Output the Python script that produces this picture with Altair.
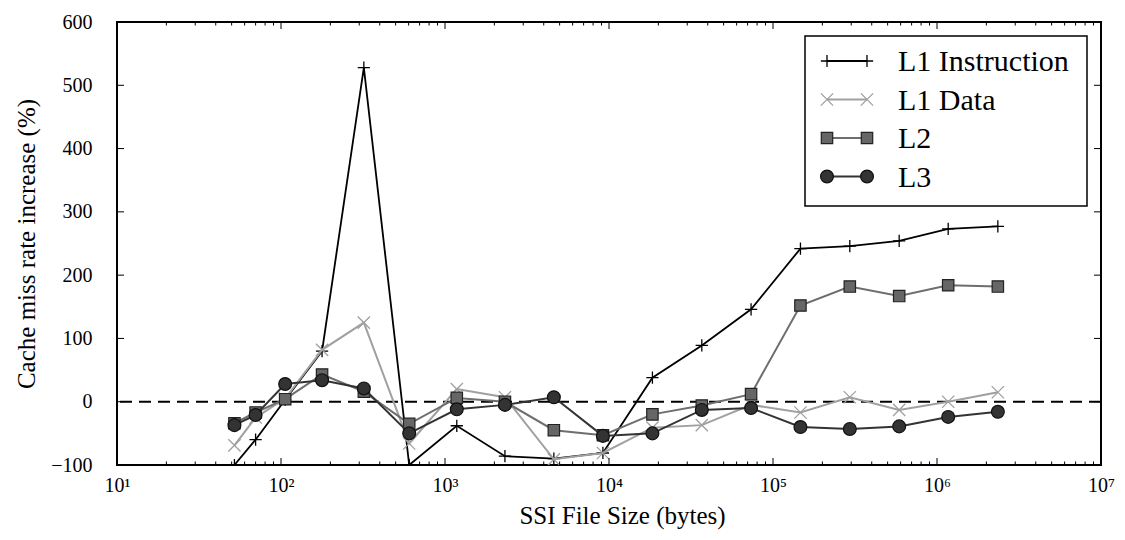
import altair as alt
import pandas as pd

# File sizes (bytes) at which the miss-rate change was measured
sizes = [52, 70, 106, 178, 320, 605, 1180, 2320, 4610, 9180, 18400, 36800,
         73500, 147000, 294000, 588000, 1170000, 2350000]

# Cache miss rate increase (%) per cache level
l1_instruction = [-100, -60, 3, 80, 528, -100, -38, -86, -90, -81, 38, 89,
                  146, 242, 246, 254, 273, 277]
l1_data = [-69, -25, 5, 82, 125, -66, 20, 7, -91, -81, -41, -37,
           -5, -17, 7, -13, 0, 15]
l2 = [-34, -17, 4, 43, 16, -35, 6, 0, -45, -53, -20, -6,
      12, 152, 182, 167, 184, 182]
l3 = [-37, -21, 28, 34, 21, -50, -12, -5, 7, -54, -50, -13,
      -10, -40, -43, -39, -24, -16]

series_names = ["L1 Instruction", "L1 Data", "L2", "L3"]
series_values = [l1_instruction, l1_data, l2, l3]

x_major = [10, 100, 1000, 10000, 100000, 1000000, 10000000]
x_minor = [k * 10 ** e for e in range(1, 7) for k in range(2, 10)]
y_major = [-100, 0, 100, 200, 300, 400, 500, 600]

W, H = 984, 443
FONT = "'Liberation Serif', 'DejaVu Serif', serif"

PLUS = "M-1,0L1,0M0,-1L0,1"
CROSS = "M-1,-1L1,1M-1,1L1,-1"

styles = {
    "L1 Instruction": dict(line="#000000", lw=1.8, shape=PLUS, filled=False,
                           fill="#000000", stroke="#000000", size=150, sw=1.3),
    "L1 Data": dict(line="#a0a0a0", lw=2.0, shape=CROSS, filled=False,
                    fill="#a0a0a0", stroke="#a0a0a0", size=150, sw=1.3),
    "L2": dict(line="#6e6e6e", lw=2.0, shape="square", filled=True,
               fill="#666666", stroke="#222222", size=130, sw=1.2),
    "L3": dict(line="#333333", lw=2.0, shape="circle", filled=True,
               fill="#333333", stroke="#111111", size=165, sw=1.2),
}

x_scale = alt.Scale(type="log", domain=[10, 10000000], nice=False)
y_scale = alt.Scale(domain=[-100, 600], nice=False, zero=False)

x_axis = alt.Axis(
    title="SSI File Size (bytes)",
    values=x_major,
    ticks=False, domain=False, grid=False,
    labelFlush=False, labelOverlap=False,
    labelExpr="'10' + ['\u2070','\u00b9','\u00b2','\u00b3','\u2074','\u2075','\u2076','\u2077'][round(log(datum.value) / LN10)]",
    labelPadding=10, titlePadding=8, titleX=505,
)
y_axis = alt.Axis(
    title="Cache miss rate increase (%)",
    values=y_major,
    ticks=False, domain=False, grid=False,
    labelFlush=False, labelOverlap=False,
    labelExpr="datum.value < 0 ? '\u2212' + format(-datum.value, 'd') : format(datum.value, 'd')",
    labelPadding=25, titlePadding=11,
)


def X(field):
    return alt.X(f"{field}:Q", scale=x_scale, axis=x_axis)


def Y(field):
    return alt.Y(f"{field}:Q", scale=y_scale, axis=y_axis)


def marker(data, st):
    if st["filled"]:
        return alt.Chart(data).mark_point(
            shape=st["shape"], filled=True, fill=st["fill"], stroke=st["stroke"],
            strokeWidth=st["sw"], size=st["size"], opacity=1, clip=True,
        )
    return alt.Chart(data).mark_point(
        shape=st["shape"], filled=False, stroke=st["stroke"], color=st["stroke"],
        strokeWidth=st["sw"], size=st["size"], opacity=1, clip=True,
    )


layers = []

# dashed zero reference line
zero_df = pd.DataFrame({"v": [0]})
layers.append(
    alt.Chart(zero_df).mark_rule(color="black", strokeWidth=2, strokeDash=[12, 7])
    .encode(y=Y("v"))
)

# data series: line plus markers, drawn in legend order
for name, vals in zip(series_names, series_values):
    st = styles[name]
    df = pd.DataFrame({"size": sizes, "value": vals, "series": name})
    layers.append(
        alt.Chart(df).mark_line(color=st["line"], strokeWidth=st["lw"], clip=True)
        .encode(x=X("size"), y=Y("value"))
    )
    layers.append(marker(df, st).encode(x=X("size"), y=Y("value")))

# inward ticks on all four sides of the frame
xmaj_df = pd.DataFrame({"t": x_major})
xmin_df = pd.DataFrame({"t": x_minor})
ymaj_df = pd.DataFrame({"t": y_major})
for tdf, length in [(xmaj_df, 7), (xmin_df, 3.5)]:
    layers.append(alt.Chart(tdf).mark_rule(color="black", strokeWidth=1)
                  .encode(x=X("t"), y=alt.value(H), y2=alt.value(H - length)))
    layers.append(alt.Chart(tdf).mark_rule(color="black", strokeWidth=1)
                  .encode(x=X("t"), y=alt.value(0), y2=alt.value(length)))
layers.append(alt.Chart(ymaj_df).mark_rule(color="black", strokeWidth=1)
              .encode(y=Y("t"), x=alt.value(0), x2=alt.value(7)))
layers.append(alt.Chart(ymaj_df).mark_rule(color="black", strokeWidth=1)
              .encode(y=Y("t"), x=alt.value(W), x2=alt.value(W - 7)))

# legend box in the upper right corner
box_df = pd.DataFrame({"b": [0]})
LX0, LX1, LY0, LY1 = 688, 970, 14, 184
layers.append(
    alt.Chart(box_df).mark_rect(fill="white", stroke="black", strokeWidth=1.5)
    .encode(x=alt.value(LX0), x2=alt.value(LX1), y=alt.value(LY0), y2=alt.value(LY1))
)
SYM_L, SYM_R, TEXT_X, ROW0, ROW_STEP = 710, 750, 781, 39, 38.5
for i, name in enumerate(series_names):
    st = styles[name]
    ldf = pd.DataFrame({"series": [name]})
    ry = ROW0 + ROW_STEP * i
    layers.append(
        alt.Chart(ldf).mark_rule(color=st["line"], strokeWidth=st["lw"])
        .encode(x=alt.value(SYM_L), x2=alt.value(SYM_R), y=alt.value(ry))
    )
    for sx in (SYM_L, SYM_R):
        layers.append(marker(ldf, st).encode(x=alt.value(sx), y=alt.value(ry)))
    layers.append(
        alt.Chart(ldf).mark_text(align="left", baseline="middle", font=FONT,
                                 fontSize=30, color="black")
        .encode(x=alt.value(TEXT_X), y=alt.value(ry + 1), text="series:N")
    )

chart = (
    alt.layer(*layers)
    .properties(
        width=W, height=H,
        autosize=alt.AutoSizeParams(type="none"),
        padding={"left": 117, "top": 22, "right": 24, "bottom": 75},
        background="white",
    )
    .configure_view(stroke="black", strokeWidth=2)
    .configure_axis(
        labelFont=FONT, titleFont=FONT, labelFontSize=20, titleFontSize=25,
        labelColor="black", titleColor="black", titleFontWeight="normal",
    )
)

chart.save("out.html", embed_options={"renderer": "svg", "actions": False})
